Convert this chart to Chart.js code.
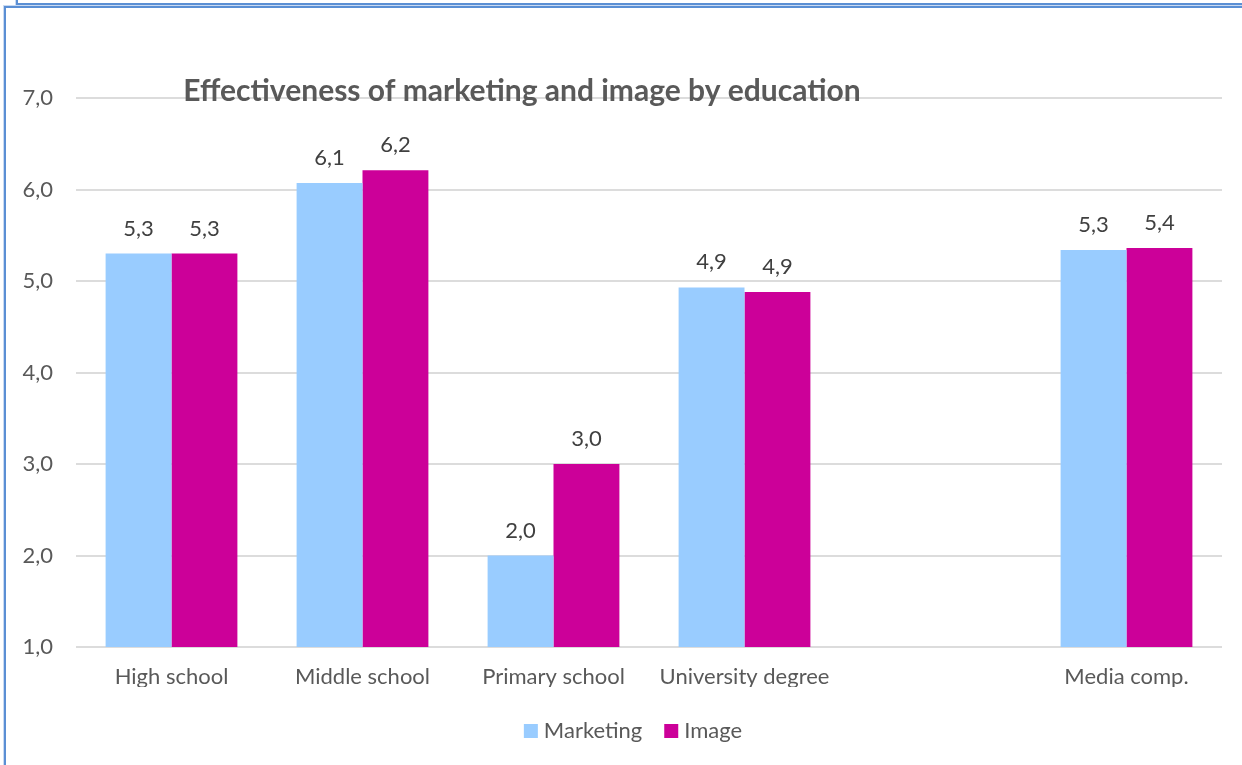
<!DOCTYPE html>
<html>
<head>
<meta charset="utf-8">
<title>Effectiveness of marketing and image by education</title>
<script src="https://cdn.jsdelivr.net/npm/chart.js@4.4.1/dist/chart.umd.min.js"></script>
<style>
html,body{margin:0;padding:0;background:#fff;}
body{width:1242px;height:765px;position:relative;overflow:hidden;}
/* frames of the sheet objects */
.frame-top{position:absolute;left:16px;top:-20px;width:1300px;height:21px;border:2px solid #5b8fd4;box-shadow:0 0 0 1px #c9daf2;}
.frame-main{position:absolute;left:4px;top:6px;width:1300px;height:800px;border:2px solid #5b8fd4;box-shadow:0 0 0 1px #c9daf2;}
#wrap{position:absolute;left:0;top:0;width:1242px;height:765px;}
</style>
</head>
<body>
<div class="frame-top"></div>
<div class="frame-main"></div>
<div id="wrap"><canvas id="chart"></canvas></div>
<script>
// education groups (one empty slot before the media comparison)
var categories=['High school','Middle school','Primary school','University degree','','Media comp.'];
var marketing=[5.30,6.07,2.00,4.93,null,5.34];
var image=[5.30,6.21,3.00,4.88,null,5.36];
var yTicks=[1,2,3,4,5,6,7];

var FONT='Lato, "Open Sans", sans-serif';

function fmt(v){return v.toFixed(1).replace('.',',');}

/* value labels above each bar */
var valueLabels={
    id:'valueLabels',
    afterDatasetsDraw:function(chart){
        var ctx=chart.ctx;
        ctx.save();
        ctx.font='22px '+FONT;
        ctx.fillStyle='#404040';
        ctx.textAlign='center';
        ctx.textBaseline='alphabetic';
        chart.data.datasets.forEach(function(ds,i){
            chart.getDatasetMeta(i).data.forEach(function(bar,j){
                var v=ds.data[j];
                if(v===null||v===undefined)return;
                ctx.fillText(fmt(v),bar.x,bar.y-18);
            });
        });
        ctx.restore();
    }
};

/* title sits over the top gridline */
var overTitle={
    id:'overTitle',
    afterDraw:function(chart){
        var ctx=chart.ctx;
        ctx.save();
        ctx.font='bold 30px '+FONT;
        ctx.fillStyle='#595959';
        ctx.textAlign='center';
        ctx.textBaseline='middle';
        ctx.fillText('Effectiveness of marketing and image by education',522,91);
        ctx.restore();
    }
};

/* legend row under the axis labels, centred at x=633 */
var bottomLegend={
    id:'bottomLegend',
    afterDraw:function(chart){
        var ctx=chart.ctx;
        var sets=chart.data.datasets;
        ctx.save();
        ctx.font='22px '+FONT;
        ctx.textBaseline='middle';
        ctx.textAlign='left';
        var box=14,gapText=6,gapItem=22,total=0;
        sets.forEach(function(ds,i){
            total+=box+gapText+ctx.measureText(ds.label).width+(i<sets.length-1?gapItem:0);
        });
        var x=633-total/2,y=731;
        sets.forEach(function(ds){
            ctx.fillStyle=ds.backgroundColor;
            ctx.fillRect(x,y-box/2,box,box);
            x+=box+gapText;
            ctx.fillStyle='#595959';
            ctx.fillText(ds.label,x,y);
            x+=ctx.measureText(ds.label).width+gapItem;
        });
        ctx.restore();
    }
};

new Chart(document.getElementById('chart'),{
    type:'bar',
    data:{
        labels:categories,
        datasets:[
            {label:'Marketing',data:marketing,backgroundColor:'#99ccff',borderWidth:0,barPercentage:1,categoryPercentage:0.69},
            {label:'Image',data:image,backgroundColor:'#cc0099',borderWidth:0,barPercentage:1,categoryPercentage:0.69}
        ]
    },
    options:{
        responsive:true,maintainAspectRatio:false,animation:false,
        layout:{padding:{left:0,right:20,top:98,bottom:78}},
        plugins:{
            legend:{display:false},
            tooltip:{enabled:false}
        },
        scales:{
            x:{
                grid:{display:false},
                border:{display:false},
                afterFit:function(s){s.height=40;},
                ticks:{color:'#595959',font:{family:FONT,size:22},padding:9,maxRotation:0,autoSkip:false}
            },
            y:{
                min:1,max:7,
                afterBuildTicks:function(s){s.ticks=yTicks.map(function(v){return {value:v};});},
                afterFit:function(s){s.width=76;},
                grid:{color:'#dcdcdc',lineWidth:2,drawTicks:false},
                border:{display:false},
                ticks:{color:'#595959',font:{family:FONT,size:22},padding:23,callback:function(v){return fmt(v);}}
            }
        }
    },
    plugins:[valueLabels,overTitle,bottomLegend]
});
</script>
</body>
</html>
